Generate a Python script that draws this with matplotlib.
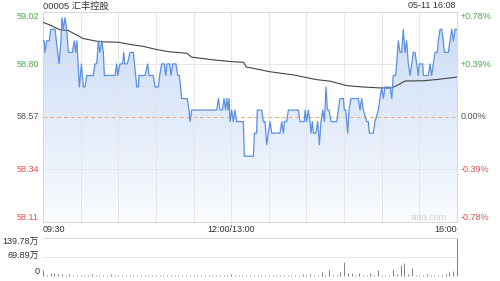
import matplotlib
matplotlib.use('Agg')
import matplotlib.pyplot as plt
import numpy as np
from matplotlib.colors import LinearSegmentedColormap
from matplotlib.patches import PathPatch
from matplotlib.transforms import blended_transform_factory

plt.rcParams['font.family'] = ['Liberation Sans', 'Noto Sans CJK SC', 'DejaVu Sans']

title = '00005 汇丰控股'
stamp = '05-11 16:08'
prev_close = 58.57
amp = 0.455
price_labels = ['59.02', '58.80', '58.57', '58.34', '58.11']
pct_labels = ['+0.78%', '+0.39%', '0.00%', '-0.39%', '-0.78%']
vol_max = 139.78
vol_labels = ['139.78万', '69.89万', '0']
time_ticks = [0, 150, 330]
time_labels = ['09:30', '12:00/13:00', '16:00']

# minutes after 09:30 (lunch break removed), price
price_t = [0, 0.9, 1.6, 2.9, 5, 6.1, 9.6, 12.8, 14.3, 15.1, 16.2, 17.5, 18.9, 20.2,
           23.4, 25, 26, 27, 29, 30.6, 32.2, 33.5, 34.8, 40.1, 41.5, 42.8, 44.1,
           45.4, 46.8, 48.1, 48.9, 57.4, 58.7, 59.5, 61.4, 63.5, 64.3, 65.2, 67.2,
           69.4, 72, 73.9, 74.7, 76, 76.5, 81.3, 83.4, 84.5, 87.9, 89.3, 91.9, 93,
           94.6, 96.7, 97.8, 98.8, 101, 102, 103.4, 106, 107.4, 108.7, 109.7,
           110.5, 115, 116.4, 117.2, 118.5, 138.5, 139.8, 141.1, 143, 144.3, 145.5,
           146.5, 147.5, 148.3, 149.1, 150.4, 151.7, 153, 154.4, 159.7, 160.5,
           167.7, 168.5, 170.3, 170.8, 174.3, 175.6, 177, 178.3, 179.6, 181, 182.3,
           188.9, 190.3, 191.6, 192.4, 194.2, 195.6, 203.5, 204.9, 208.3, 208.9,
           210.2, 211.5, 212.8, 213.6, 214.7, 215.5, 217.4, 219, 220.3, 221.6, 223,
           224.3, 225.6, 226.7, 228, 229.6, 234.1, 235.4, 236.7, 239.4, 240.2,
           241.3, 242.9, 243.9, 245.5, 251.3, 252.7, 254, 255.3, 258, 259.3, 260.1,
           263.3, 264.6, 267.3, 268.6, 270, 271.3, 272.6, 276.6, 278, 279.2, 281.1,
           281.9, 283.2, 284.6, 285.9, 287.2, 288.6, 289.9, 291.2, 292.6, 293.9,
           295.2, 296.5, 297.9, 299.2, 300, 302.7, 303.2, 307.2, 308.5, 309.8,
           311.1, 312.5, 314.3, 315.1, 316.5, 317.8, 319.1, 319.9, 323.1, 324.4,
           325.8, 327.1, 328.5, 330]
price_p = [58.90, 58.90, 58.85, 58.90, 58.90, 58.95, 58.95, 58.80, 58.90, 59.00, 58.95,
           59.00, 58.95, 58.85, 58.85, 58.90, 58.85, 58.90, 58.70, 58.80, 58.70,
           58.70, 58.75, 58.75, 58.80, 58.80, 58.90, 58.85, 58.90, 58.85, 58.75,
           58.75, 58.80, 58.75, 58.80, 58.80, 58.85, 58.80, 58.80, 58.85, 58.85,
           58.75, 58.70, 58.70, 58.75, 58.75, 58.80, 58.75, 58.75, 58.70, 58.70,
           58.75, 58.80, 58.80, 58.75, 58.80, 58.80, 58.75, 58.80, 58.80, 58.75,
           58.75, 58.70, 58.65, 58.65, 58.60, 58.55, 58.60, 58.60, 58.65, 58.60,
           58.60, 58.65, 58.60, 58.65, 58.60, 58.65, 58.55, 58.60, 58.55, 58.60,
           58.55, 58.55, 58.40, 58.40, 58.50, 58.50, 58.60, 58.60, 58.55, 58.55,
           58.45, 58.50, 58.55, 58.50, 58.50, 58.55, 58.50, 58.55, 58.55, 58.60,
           58.60, 58.55, 58.55, 58.60, 58.55, 58.60, 58.55, 58.50, 58.55, 58.50,
           58.50, 58.55, 58.45, 58.55, 58.60, 58.55, 58.70, 58.60, 58.60, 58.55,
           58.55, 58.60, 58.65, 58.65, 58.60, 58.60, 58.50, 58.60, 58.65, 58.65,
           58.60, 58.65, 58.60, 58.55, 58.55, 58.50, 58.50, 58.55, 58.60, 58.65,
           58.70, 58.65, 58.70, 58.70, 58.65, 58.75, 58.75, 58.80, 58.90, 58.85,
           58.85, 58.95, 58.85, 58.90, 58.80, 58.75, 58.80, 58.85, 58.85, 58.80,
           58.75, 58.80, 58.80, 58.75, 58.75, 58.80, 58.75, 58.80, 58.85, 58.85,
           58.90, 58.95, 58.95, 58.90, 58.85, 58.85, 58.90, 58.95, 58.90, 58.95,
           58.95]

avg_t = [0, 5, 13.5, 20, 32, 45, 60, 72, 80, 90, 100, 115, 118, 135, 150, 160, 162,
         181, 200, 218, 229, 242, 255, 268.6, 278, 283, 288.6, 303, 315, 330]
avg_p = [58.98, 58.97, 58.948, 58.945, 58.91, 58.896, 58.894, 58.882, 58.876, 58.863,
         58.853, 58.846, 58.83, 58.818, 58.81, 58.807, 58.787, 58.766, 58.752, 58.732,
         58.725, 58.706, 58.70, 58.696, 58.696, 58.709, 58.726, 58.727, 58.733, 58.743]

# volume (万) every 3 minutes, last one is the closing auction
vol_v = [22, 5, 10, 11, 7, 9, 4, 6, 3, 5,
         4, 3, 5, 7, 4, 3, 5, 4, 6, 3,
         4, 3, 5, 4, 3, 4, 3, 5, 3, 4,
         3, 4, 3, 3, 4, 3, 5, 4, 3, 3,
         4, 3, 3, 4, 3, 3, 4, 3, 3, 5,
         6, 4, 3, 3, 5, 3, 4, 3, 4, 3,
         4, 3, 3, 4, 3, 5, 3, 4, 3, 7,
         5, 6, 4, 5, 16, 4, 22, 3, 5, 14,
         52, 11, 11, 4, 11, 3, 4, 11, 5, 22,
         4, 3, 5, 25, 8, 40, 47, 6, 29, 4,
         5, 3, 6, 4, 3, 5, 4, 6, 14, 18,
         vol_max]
vol_t = np.arange(len(vol_v)) * 3

fig = plt.figure(figsize=(5, 2.81), dpi=100)
ax = fig.add_axes([0.086, 0.21, 0.828, 0.7473])
axv = fig.add_axes([0.086, 0.0178, 0.828, 0.137])

ylo, yhi = prev_close - amp, prev_close + amp
levels = [prev_close + amp * k for k in (1, 0.5, 0, -0.5, -1)]
colors = ['#4fa84f', '#4fa84f', '#555555', '#d9534f', '#d9534f']
valign = ['top', 'center', 'center', 'center', 'bottom']

# gradient fill under price line
fill = ax.fill_between(price_t, price_p, ylo, color='none', lw=0)
patch = PathPatch(fill.get_paths()[0], transform=ax.transData, facecolor='none', edgecolor='none')
ax.add_patch(patch)
cmap = LinearSegmentedColormap.from_list('blu', ['#fafcff', '#c9daf5'])
grad = np.linspace(1, 0, 256).reshape(-1, 1)
im = ax.imshow(grad, extent=[0, 330, ylo, yhi], aspect='auto', cmap=cmap,
               origin='upper', zorder=1)
im.set_clip_path(patch)

for lv in levels[1:-1]:
    if abs(lv - prev_close) < 1e-9:
        ax.axhline(lv, color='#f0a878', lw=0.7, ls=(0, (4, 3)), zorder=2)
    else:
        ax.axhline(lv, color='#e3e3e3', lw=0.6, zorder=2)
for t in range(30, 330, 30):
    ax.axvline(t, color='#e3e3e3', lw=0.6, zorder=2)

ax.plot(avg_t, avg_p, color='#444444', lw=0.8, zorder=3)
ax.plot(price_t, price_p, color='#5b8fe0', lw=0.9, zorder=4)

ax.set_xlim(0, 330)
ax.set_ylim(ylo, yhi)
ax.set_xticks([])
ax.set_yticks([])
for s in ax.spines.values():
    s.set_color('#d8d8d8')
    s.set_linewidth(0.7)

tr = blended_transform_factory(ax.transAxes, ax.transData)
for lv, pl, cl, va, c in zip(levels, price_labels, pct_labels, valign, colors):
    ax.text(-0.01, lv, pl, transform=tr, ha='right', va=va, fontsize=6.5, color=c)
    ax.text(1.009, lv, cl, transform=tr, ha='left', va=va, fontsize=6.5, color=c)

trx = blended_transform_factory(ax.transData, ax.transAxes)
for t, lab, ha in zip(time_ticks, time_labels, ['left', 'center', 'right']):
    ax.text(t, -0.034, lab, transform=trx, ha=ha, va='center', fontsize=6.5, color='#333333')

ax.text(0.975, 0.02, 'sina.com', transform=ax.transAxes, ha='right', va='center',
        fontsize=6.5, color='#d0d0d0')

fig.text(0.086, 1 - 6 / 281, title, ha='left', va='center', fontsize=6.7, color='#333333')
fig.text(0.912, 1 - 6 / 281, stamp, ha='right', va='center', fontsize=6.5, color='#333333')

# volume panel
axv.vlines(vol_t, 0, vol_v, color='#808080', lw=0.7, clip_on=False)
axv.axhline(vol_max / 2, color='#e3e3e3', lw=0.6)
axv.set_xlim(0, 330)
axv.set_ylim(0, vol_max)
axv.set_xticks([])
axv.set_yticks([])
for name, s in axv.spines.items():
    if name == 'top':
        s.set_color('#d8d8d8')
        s.set_linewidth(0.7)
    else:
        s.set_visible(False)
trv = blended_transform_factory(axv.transAxes, axv.transData)
for v, lab, va in zip([vol_max, vol_max / 2, 0], vol_labels, ['top', 'center', 'bottom']):
    axv.text(-0.009, v, lab, transform=trv, ha='right', va=va, fontsize=6.5, color='#333333')

fig.savefig('out.png', dpi=100)
